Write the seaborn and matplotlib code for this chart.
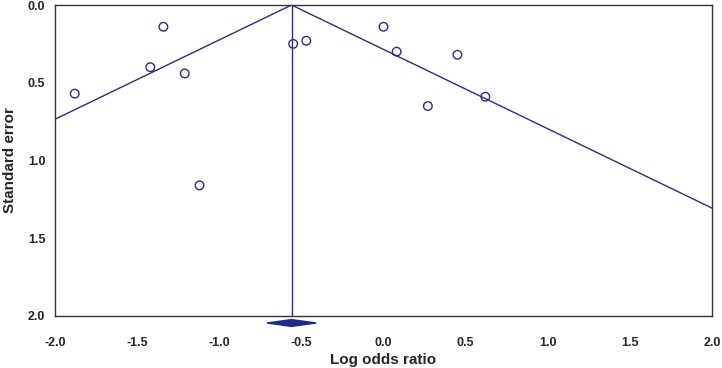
import matplotlib
matplotlib.use("Agg")
import matplotlib.pyplot as plt
import seaborn as sns
import numpy as np
import pandas as pd

# Study estimates
log_odds = [-1.88, -1.34, -1.42, -1.21, -1.12, -0.55, -0.47, 0.00, 0.08, 0.27, 0.45, 0.62]
std_err = [0.57, 0.14, 0.40, 0.44, 1.16, 0.25, 0.23, 0.14, 0.30, 0.65, 0.32, 0.59]
pooled = -0.56
pooled_ci = [-0.71, -0.41]

x_ticks = [-2.0, -1.5, -1.0, -0.5, 0.0, 0.5, 1.0, 1.5, 2.0]
y_ticks = [0.0, 0.5, 1.0, 1.5, 2.0]

navy = "#2d2d7a"
diamond_col = "#1f2a8c"

df = pd.DataFrame({"Log odds ratio": log_odds, "Standard error": std_err})

sns.set_style("white")
plt.rcParams["font.family"] = ["Liberation Sans", "DejaVu Sans"]

fig = plt.figure(figsize=(7.22, 3.68), dpi=100)
ax = fig.add_axes([55 / 722, 1 - 316 / 368, 657 / 722, 311 / 368])

# funnel (pseudo 95% limits) and pooled estimate line
se_line = np.array([0.0, 2.0])
ax.plot(pooled - 1.96 * se_line, se_line, color=navy, lw=1)
ax.plot(pooled + 1.96 * se_line, se_line, color=navy, lw=1)
ax.plot([pooled, pooled], [0, 2.0], color=navy, lw=1)

sns.scatterplot(data=df, x="Log odds ratio", y="Standard error", ax=ax,
                facecolor="none", edgecolor=navy, linewidth=1, s=38, zorder=3)

# pooled diamond below the axis
h = 0.022
ax.fill([pooled_ci[0], pooled, pooled_ci[1], pooled],
        [2.045, 2.045 - h, 2.045, 2.045 + h],
        color=diamond_col, clip_on=False, zorder=4)

ax.set_xlim(-2.0, 2.0)
ax.set_ylim(2.0, 0.0)
ax.set_xticks(x_ticks)
ax.set_yticks(y_ticks)
ax.set_xticklabels([f"{v:.1f}" for v in x_ticks], fontweight="bold", fontsize=9)
ax.set_yticklabels([f"{v:.1f}" for v in y_ticks], fontweight="bold", fontsize=9)
ax.tick_params(axis="x", direction="in", length=3, pad=15, color="#333333")
ax.tick_params(axis="y", length=0, pad=7)
ax.set_xlabel("Log odds ratio", fontweight="bold", fontsize=11, labelpad=3)
ax.set_ylabel("Standard error", fontweight="bold", fontsize=11, labelpad=8)

for sp in ax.spines.values():
    sp.set_color("#333333")
    sp.set_linewidth(1)

fig.savefig("out.png", dpi=100)
